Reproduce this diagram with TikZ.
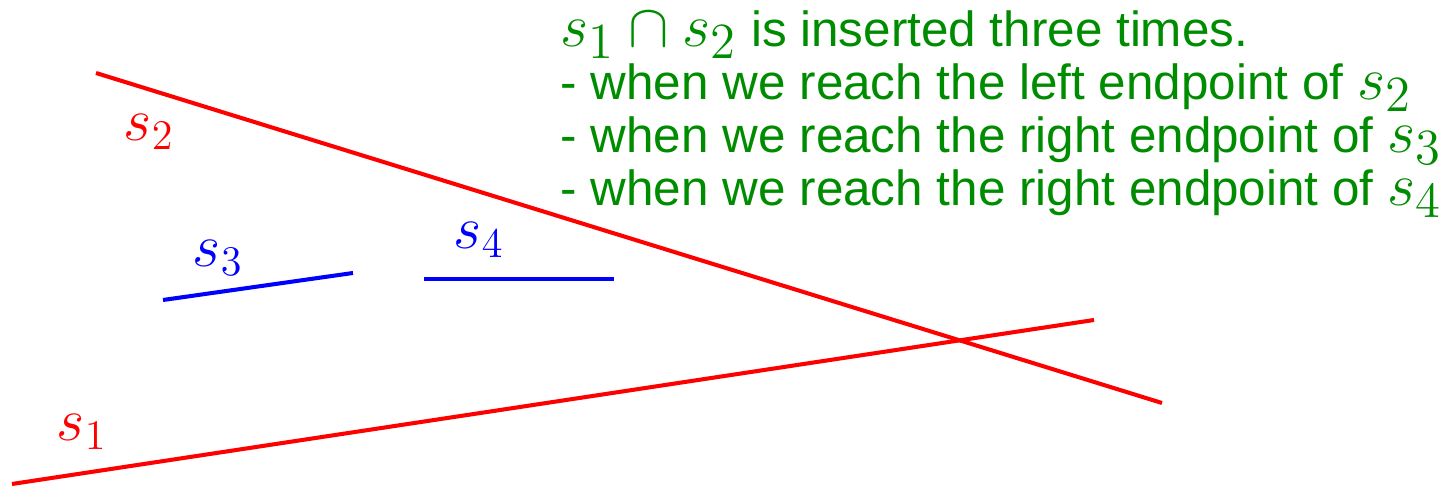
\documentclass[tikz,border=0pt]{standalone}
\usepackage{fontspec}
\setmainfont{Liberation Sans}
\usepackage{xcolor}
\definecolor{mygreen}{RGB}{0,140,0}
\newcommand{\segmath}[1]{{\fontsize{19}{20}\selectfont$#1$}}

\begin{document}
\begin{tikzpicture}[x=0.01cm, y=-0.01cm,
  seg/.style={line width=1.15pt},
  lbl/.style={font=\fontsize{18.5}{20}\selectfont},
  note/.style={text=mygreen, anchor=base west, inner sep=0pt, font=\fontsize{14.05}{16}\selectfont}]

\useasboundingbox (0,0) rectangle (1448,486);

% segments
\coordinate (s1a) at (12,484);
\coordinate (s1b) at (1094,320);
\coordinate (s2a) at (96,73);
\coordinate (s2b) at (1162,403);
\coordinate (s3a) at (163,300);
\coordinate (s3b) at (353,273);
\coordinate (s4a) at (424,279);
\coordinate (s4b) at (614,279);

\draw[seg, red] (s1a) -- (s1b);
\draw[seg, red] (s2a) -- (s2b);
\draw[seg, blue] (s3a) -- (s3b);
\draw[seg, blue] (s4a) -- (s4b);

\node[lbl, red] (l1) at (82,432) {$s_1$};
\node[lbl, red] (l2) at (149,132) {$s_2$};
\node[lbl, blue] (l3) at (218,258) {$s_3$};
\node[lbl, blue] (l4) at (479,240) {$s_4$};

% the note
\node[note] (t1) at (560,47) {\segmath{s_1 \cap s_2} is inserted three times.};
\node[note] (t2) at (560,100) {- when we reach the left endpoint of \segmath{s_2}};
\node[note] (t3) at (560,153) {- when we reach the right endpoint of \segmath{s_3}};
\node[note] (t4) at (560,206) {- when we reach the right endpoint of \segmath{s_4}};
\end{tikzpicture}
\end{document}
